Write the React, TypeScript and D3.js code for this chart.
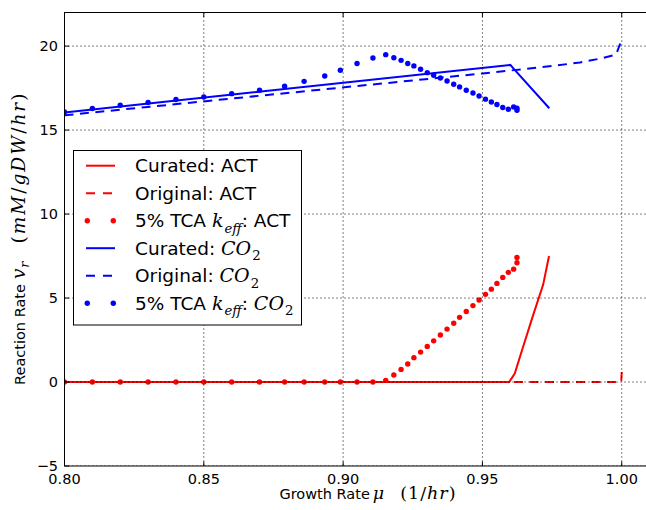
import React from 'react';
import * as d3 from 'd3';

// ---------- data ----------
const xTicks = [0.8, 0.85, 0.9, 0.95, 1.0];
const xTickLabels = ['0.80', '0.85', '0.90', '0.95', '1.00'];
const yTicks = [-5, 0, 5, 10, 15, 20];
const yTickLabels = ['\u22125', '0', '5', '10', '15', '20'];

const curatedActX = [0.8, 0.9596, 0.9616, 0.9646, 0.9682, 0.9718, 0.9739];
const curatedActY = [0, 0, 0.5, 2.1, 3.98, 5.8, 7.5];

const originalActX = [0.8, 0.9998, 1.0];
const originalActY = [0, 0, 0.6];

const tcaX = [0.8, 0.81, 0.82, 0.83, 0.84, 0.85, 0.86, 0.87, 0.879, 0.886, 0.8934, 0.899, 0.905, 0.9107,
  0.9153, 0.9182, 0.9208, 0.9232, 0.9254, 0.9278, 0.9302, 0.9325, 0.9349, 0.9373, 0.9397, 0.9418,
  0.9442, 0.9466, 0.9488, 0.9511, 0.9532, 0.9552, 0.9573, 0.9593, 0.9612, 0.9624, 0.9624];
const tcaActY = [0, 0, 0, 0, 0, 0, 0, 0, 0, 0, 0, 0, 0, 0,
  0.1, 0.42, 0.75, 1.07, 1.45, 1.78, 2.12, 2.45, 2.8, 3.15, 3.5, 3.85,
  4.2, 4.55, 4.88, 5.22, 5.53, 5.87, 6.23, 6.53, 6.72, 7.1, 7.42];
const tcaCo2Y = [16.08, 16.28, 16.48, 16.64, 16.82, 16.97, 17.17, 17.37, 17.61, 17.9, 18.22, 18.56, 18.96, 19.29,
  19.49, 19.31, 19.15, 18.96, 18.82, 18.62, 18.42, 18.26, 18.1, 17.92, 17.73, 17.57,
  17.37, 17.21, 17.03, 16.84, 16.67, 16.52, 16.34, 16.24, 16.38, 16.3, 16.18];

const curatedCo2X = [0.8, 0.96, 0.9615, 0.974];
const curatedCo2Y = [16.05, 18.88, 18.6, 16.3];

const originalCo2X = [0.8, 0.95, 0.97, 0.985, 0.993, 0.998, 1.0];
const originalCo2Y = [15.88, 18.37, 18.72, 19.02, 19.28, 19.5, 20.4];

// ---------- layout ----------
const W = 646;
const H = 510;
const L = 64.5;
const R = 670.5;
const T = 12.5;
const B = 466;

const RED = '#ff0000';
const BLUE = '#0000ff';
const SANS = 'DejaVu Sans';
const SERIF = 'DejaVu Serif';

type Seg = { t: string; it?: boolean; serif?: boolean; sub?: boolean; dx?: number; ls?: number };

function MathText({ segs, fs, mfs, ...rest }: { segs: Seg[]; fs: number; mfs: number; [k: string]: any }) {
  let inSub = false;
  const out: any[] = [];
  segs.forEach((s, i) => {
    let dy = 0;
    if (s.sub && !inSub) { dy = fs * 0.3; inSub = true; }
    else if (!s.sub && inSub) { dy = -fs * 0.3; inSub = false; }
    const size = (s.serif ? mfs : fs) * (s.sub ? 0.7 : 1);
    out.push(
      <tspan key={i} dy={dy || undefined} dx={s.dx || undefined} fontFamily={s.serif ? SERIF : SANS}
        fontStyle={s.it ? 'italic' : 'normal'} fontSize={size}
        style={s.ls ? { letterSpacing: s.ls + 'px' } : undefined}>{s.t}</tspan>
    );
  });
  return <text {...rest} fontSize={fs} style={{ whiteSpace: 'pre' }}>{out}</text>;
}

export default function App() {
  const x = d3.scaleLinear().domain([0.8, 1.0175]).range([L, R]);
  const y = d3.scaleLinear().domain([-5, 22]).range([B, T]);

  const line = (xs: number[], ys: number[]) =>
    d3.line<number>().x((_, i) => x(xs[i])).y((d) => y(d))(ys) || '';

  const legendItems: { segs: Seg[]; color: string; kind: 'solid' | 'dash' | 'dot' }[] = [
    { segs: [{ t: 'Curated: ACT' }], color: RED, kind: 'solid' },
    { segs: [{ t: 'Original: ACT' }], color: RED, kind: 'dash' },
    { segs: [{ t: '5% TCA ' }, { t: 'k', it: true, serif: true }, { t: 'eff', it: true, serif: true, sub: true, dx: 1 }, { t: ': ACT' }], color: RED, kind: 'dot' },
    { segs: [{ t: 'Curated: ' }, { t: 'CO', it: true, serif: true }, { t: '2', serif: true, sub: true, dx: 1 }], color: BLUE, kind: 'solid' },
    { segs: [{ t: 'Original: ' }, { t: 'CO', it: true, serif: true }, { t: '2', serif: true, sub: true, dx: 1 }], color: BLUE, kind: 'dash' },
    { segs: [{ t: '5% TCA ' }, { t: 'k', it: true, serif: true }, { t: 'eff', it: true, serif: true, sub: true, dx: 1 }, { t: ': ' }, { t: 'CO', it: true, serif: true }, { t: '2', serif: true, sub: true, dx: 1 }], color: BLUE, kind: 'dot' },
  ];

  const lgX = 73.5, lgY = 150.5, lgW = 228, lgH = 174.5;
  const rowY0 = 165.7, rowDy = 27.5;

  return (
    <svg width={W} height={H} style={{ position: 'absolute', left: 0, top: 0, background: '#fff' }}>
      <defs>
        <clipPath id="plotclip">
          <rect x={L} y={T} width={R - L} height={B - T} />
        </clipPath>
      </defs>
      <rect x={0} y={0} width={W} height={H} fill="#fff" />

      <g clipPath="url(#plotclip)">
        {/* ACT */}
        <path d={line(curatedActX, curatedActY)} fill="none" stroke={RED} strokeWidth={2} />
        <path d={line(originalActX, originalActY)} fill="none" stroke={RED} strokeWidth={2} strokeDasharray="9,6.5" />
        {tcaX.map((v, i) => (
          <circle key={'ra' + i} cx={x(v)} cy={y(tcaActY[i])} r={2.7} fill={RED} />
        ))}
        {/* CO2 */}
        <path d={line(curatedCo2X, curatedCo2Y)} fill="none" stroke={BLUE} strokeWidth={2} />
        <path d={line(originalCo2X, originalCo2Y)} fill="none" stroke={BLUE} strokeWidth={2} strokeDasharray="9,6.5" />
        {tcaX.map((v, i) => (
          <circle key={'bc' + i} cx={x(v)} cy={y(tcaCo2Y[i])} r={2.7} fill={BLUE} />
        ))}

        {/* grid (drawn above lines, classic style) */}
        {xTicks.map((t) => (
          <line key={'gx' + t} x1={x(t)} x2={x(t)} y1={T} y2={B} stroke="#000" strokeWidth={1} strokeDasharray="1,3" />
        ))}
        {yTicks.map((t) => (
          <line key={'gy' + t} x1={L} x2={R} y1={y(t)} y2={y(t)} stroke="#000" strokeWidth={1} strokeDasharray="1,3" />
        ))}
      </g>

      {/* ticks */}
      {xTicks.map((t) => (
        <g key={'tx' + t}>
          <line x1={x(t)} x2={x(t)} y1={B} y2={B - 4.5} stroke="#000" strokeWidth={1} />
          <line x1={x(t)} x2={x(t)} y1={T} y2={T + 4.5} stroke="#000" strokeWidth={1} />
        </g>
      ))}
      {yTicks.map((t) => (
        <g key={'ty' + t}>
          <line x1={L} x2={L + 4.5} y1={y(t)} y2={y(t)} stroke="#000" strokeWidth={1} />
          <line x1={R} x2={R - 4.5} y1={y(t)} y2={y(t)} stroke="#000" strokeWidth={1} />
        </g>
      ))}

      {/* spines */}
      <rect x={L} y={T} width={R - L} height={B - T} fill="none" stroke="#000" strokeWidth={1} />

      {/* tick labels */}
      {xTicks.map((t, i) => (
        <text key={'lx' + t} x={x(t)} y={484} textAnchor="middle" fontFamily={SANS} fontSize={14.5} fill="#000">
          {xTickLabels[i]}
        </text>
      ))}
      {yTicks.map((t, i) => (
        <text key={'ly' + t} x={58} y={y(t) + 5.2} textAnchor="end" fontFamily={SANS} fontSize={14.5} fill="#000">
          {yTickLabels[i]}
        </text>
      ))}

      {/* axis labels */}
      <MathText x={(L + R) / 2} y={499} textAnchor="middle" fs={14.5} mfs={17.5} fill="#000"
        segs={[{ t: 'Growth Rate' }, { t: 'μ', it: true, serif: true, dx: 3 }, { t: '(1/', serif: true, dx: 16, ls: 1 },
          { t: 'hr', it: true, serif: true, ls: 1 }, { t: ')', serif: true }]} />
      <MathText x={0} y={0} transform={`translate(25,${(T + B) / 2}) rotate(-90)`} textAnchor="middle" fs={14.5} mfs={18.5} fill="#000"
        segs={[{ t: 'Reaction Rate' }, { t: 'v', it: true, serif: true, dx: 5 }, { t: 'r', it: true, serif: true, sub: true, dx: 1 },
          { t: '(', serif: true, dx: 18, ls: 2 }, { t: 'mM', it: true, serif: true, ls: 2 }, { t: '/', serif: true, ls: 2 },
          { t: 'gDW', it: true, serif: true, ls: 2 }, { t: '/', serif: true, ls: 2 }, { t: 'hr', it: true, serif: true, ls: 2 },
          { t: ')', serif: true }]} />

      {/* legend */}
      <rect x={lgX} y={lgY} width={lgW} height={lgH} fill="#fff" stroke="#000" strokeWidth={1} />
      {legendItems.map((it, i) => {
        const cy = rowY0 + i * rowDy;
        return (
          <g key={'lg' + i}>
            {it.kind === 'solid' && <line x1={86} x2={115} y1={cy} y2={cy} stroke={it.color} strokeWidth={2} />}
            {it.kind === 'dash' && <line x1={86} x2={115} y1={cy} y2={cy} stroke={it.color} strokeWidth={2} strokeDasharray="9,8" />}
            {it.kind === 'dot' && (
              <g>
                <circle cx={87.3} cy={cy} r={2.7} fill={it.color} />
                <circle cx={113.3} cy={cy} r={2.7} fill={it.color} />
              </g>
            )}
            <MathText x={135} y={cy + 6.5} fs={18.5} mfs={19} fill="#000" segs={it.segs} />
          </g>
        );
      })}
    </svg>
  );
}
